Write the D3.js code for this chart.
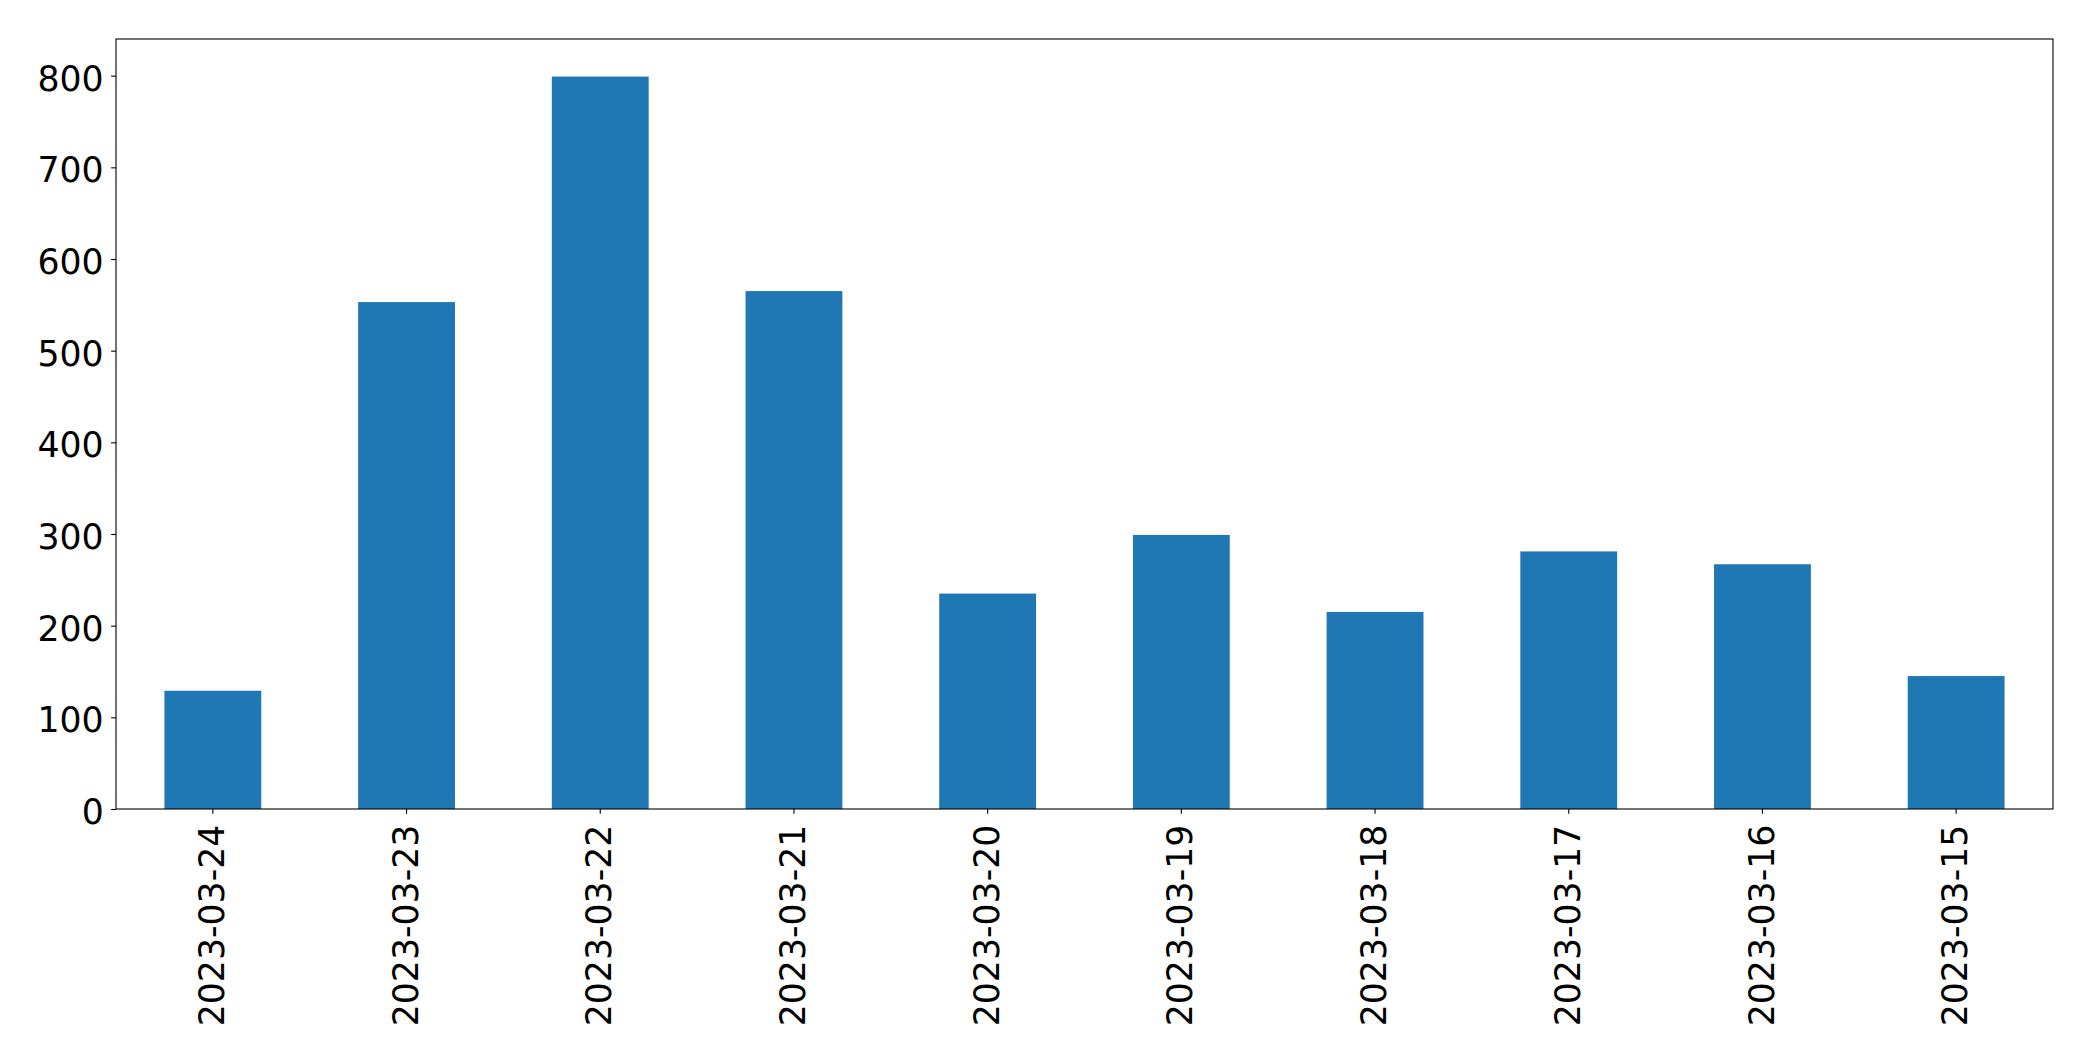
<!DOCTYPE html>
<html>
<head>
<meta charset="utf-8">
<script src="https://cdn.jsdelivr.net/npm/d3@7"></script>
<style>
  body { margin: 0; background: #fff; }
  svg { display: block; font-family: "DejaVu Sans", sans-serif; }
</style>
</head>
<body>
<svg width="2093" height="1061"></svg>
<script>
// data
var dates = ["2023-03-24", "2023-03-23", "2023-03-22", "2023-03-21", "2023-03-20",
             "2023-03-19", "2023-03-18", "2023-03-17", "2023-03-16", "2023-03-15"];
var counts = [129, 553, 799, 565, 235, 299, 215, 281, 267, 145];
var yTicks = [0, 100, 200, 300, 400, 500, 600, 700, 800];

var svg = d3.select("svg"),
    margin = { top: 39, right: 40, bottom: 252, left: 116 },
    width = +svg.attr("width") - margin.left - margin.right,
    height = +svg.attr("height") - margin.top - margin.bottom;

var fontSize = 34.7,
    tickLen = 4.86,
    tickPad = 4.86;

var x = d3.scaleBand()
    .domain(dates)
    .range([0, width])
    .paddingInner(0.5)
    .paddingOuter(0.25);

var y = d3.scaleLinear()
    .domain([0, 840])
    .range([height, 0]);

var g = svg.append("g")
    .attr("transform", "translate(" + margin.left + "," + margin.top + ")");

g.selectAll(".bar")
    .data(counts)
    .enter().append("rect")
    .attr("class", "bar")
    .attr("x", function(d, i) { return x(dates[i]); })
    .attr("y", function(d) { return y(d); })
    .attr("width", x.bandwidth())
    .attr("height", function(d) { return height - y(d); })
    .attr("fill", "#1f77b4");

var xAxis = d3.axisBottom(x)
    .tickSize(tickLen)
    .tickPadding(tickPad)
    .tickSizeOuter(0);

var yAxis = d3.axisLeft(y)
    .tickValues(yTicks)
    .tickSize(tickLen)
    .tickPadding(tickPad)
    .tickSizeOuter(0);

var gx = g.append("g")
    .attr("class", "axis axis--x")
    .attr("transform", "translate(0," + height + ")")
    .call(xAxis);

// labels turned upright, right end just under the tick
gx.selectAll("text")
    .attr("transform", "rotate(-90)")
    .attr("x", -15.7)
    .attr("y", 0)
    .attr("dy", "0.32em")
    .style("text-anchor", "end");

var gy = g.append("g")
    .attr("class", "axis axis--y")
    .call(yAxis);

gy.selectAll("text")
    .attr("x", -12.3)
    .attr("dy", "0.42em");

svg.selectAll(".axis text")
    .attr("fill", "#000")
    .style("font-size", fontSize + "px")
    .style("font-family", "'DejaVu Sans', sans-serif");

svg.selectAll(".axis line")
    .attr("stroke", "#000")
    .attr("stroke-width", 1.1);

svg.selectAll(".axis .domain").remove();

// frame around the plot area
g.append("rect")
    .attr("x", 0)
    .attr("y", 0)
    .attr("width", width)
    .attr("height", height)
    .attr("fill", "none")
    .attr("stroke", "#000")
    .attr("stroke-width", 1.1);
</script>
</body>
</html>
